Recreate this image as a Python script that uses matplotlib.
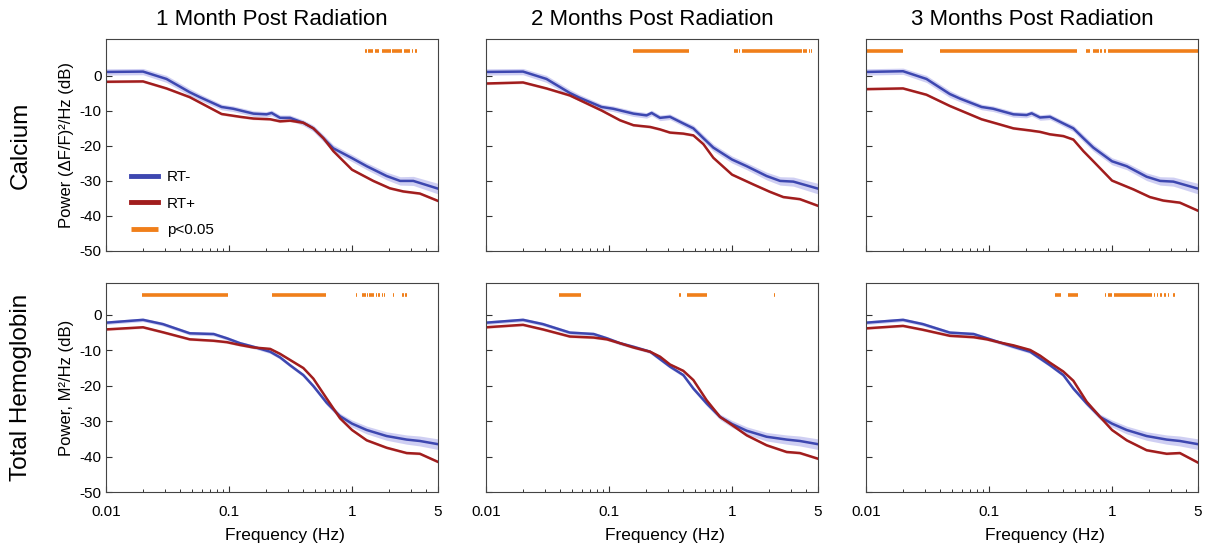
import numpy as np
import matplotlib.pyplot as plt
from matplotlib.ticker import FixedLocator, LogLocator, NullFormatter

plt.rcParams['font.family'] = ['Liberation Sans', 'DejaVu Sans']

titles = ["1 Month Post Radiation", "2 Months Post Radiation", "3 Months Post Radiation"]
row_labels = ["Calcium", "Total Hemoglobin"]
ylabels = ["Power (\u0394F/F)\u00b2/Hz (dB)", "Power, M\u00b2/Hz (dB)"]

# calcium row
ca_freq_blue = [0.01, 0.02, 0.031, 0.048, 0.058, 0.087, 0.108, 0.158, 0.202, 0.222, 0.26,
                0.313, 0.402, 0.485, 0.585, 0.705, 1.0, 1.316, 1.91, 2.46, 3.15, 5.0]
ca_sem_blue = [0.9, 0.9, 1.0, 1.0, 0.9, 0.8, 0.8, 0.8, 0.8, 0.8, 0.8,
               0.8, 0.8, 0.9, 1.0, 1.0, 1.0, 1.0, 1.1, 1.2, 1.3, 1.5]
ca_rt_minus = [
    [1.1, 1.2, -0.9, -4.7, -6.1, -8.9, -9.4, -10.8, -11.0, -10.6, -12.0,
     -12.0, -13.4, -15.0, -17.8, -20.7, -23.5, -25.8, -28.6, -30.0, -30.0, -32.2],
    [1.1, 1.2, -0.9, -4.9, -6.3, -8.9, -9.4, -10.8, -11.3, -10.6, -12.0,
     -11.7, -13.6, -15.0, -17.8, -20.5, -23.9, -25.8, -28.6, -30.0, -30.2, -32.2],
    [1.1, 1.3, -0.9, -5.2, -6.5, -8.9, -9.4, -11.0, -11.2, -10.7, -11.9,
     -11.7, -13.6, -15.0, -17.8, -20.5, -24.4, -25.8, -28.8, -30.0, -30.2, -32.2],
]
ca_freq_red = [0.01, 0.02, 0.031, 0.048, 0.087, 0.123, 0.158, 0.216, 0.26, 0.313,
               0.402, 0.485, 0.585, 0.705, 1.0, 1.49, 2.03, 2.61, 3.56, 5.0]
ca_rt_plus = [
    [-1.7, -1.6, -3.6, -6.1, -10.9, -11.7, -12.2, -12.4, -13.0, -12.8,
     -13.4, -15.0, -17.8, -21.5, -26.8, -30.0, -32.1, -33.0, -33.6, -35.7],
    [-2.2, -1.9, -3.6, -5.6, -9.9, -12.7, -14.1, -14.6, -15.3, -16.2,
     -16.5, -17.0, -19.5, -23.4, -28.2, -31.0, -33.1, -34.6, -35.2, -37.1],
    [-3.8, -3.6, -5.4, -8.6, -12.4, -13.9, -15.0, -15.6, -16.0, -16.7,
     -17.2, -18.2, -21.5, -24.4, -29.9, -32.4, -34.6, -35.6, -36.2, -38.5],
]

# hemoglobin row
hb_freq = [0.01, 0.02, 0.029, 0.048, 0.075, 0.096, 0.123, 0.158, 0.216, 0.26, 0.313,
           0.402, 0.485, 0.622, 0.799, 1.0, 1.316, 1.91, 2.78, 3.56, 5.0]
hb_sem_blue = [0.5, 0.5, 0.5, 0.5, 0.5, 0.5, 0.5, 0.5, 0.5, 0.5, 0.5,
               0.5, 0.6, 0.7, 0.8, 1.0, 1.1, 1.2, 1.3, 1.4, 1.5]
hb_rt_minus = [
    [-2.2, -1.4, -2.6, -5.2, -5.4, -6.6, -8.0, -9.0, -10.4, -12.0, -14.2,
     -17.0, -20.1, -24.8, -28.6, -30.7, -32.5, -34.2, -35.2, -35.6, -36.5],
    [-2.2, -1.4, -2.6, -5.0, -5.4, -6.6, -8.0, -9.0, -10.4, -12.5, -14.6,
     -17.0, -20.8, -25.0, -28.8, -30.8, -32.7, -34.4, -35.2, -35.6, -36.5],
    [-2.2, -1.4, -2.6, -5.0, -5.4, -6.6, -7.8, -9.0, -10.4, -12.3, -14.2,
     -17.0, -20.8, -25.0, -28.8, -30.7, -32.5, -34.2, -35.2, -35.6, -36.5],
]
hb_rt_plus = [
    [-4.1, -3.5, -4.9, -6.9, -7.3, -7.7, -8.5, -9.2, -9.6, -11.0, -12.7,
     -15.0, -18.0, -23.6, -29.2, -32.5, -35.4, -37.5, -39.0, -39.2, -41.5],
    [-3.5, -2.8, -4.1, -6.1, -6.4, -6.9, -8.0, -9.2, -10.4, -11.8, -14.0,
     -15.8, -18.4, -24.1, -28.8, -31.1, -34.0, -36.8, -38.7, -39.0, -40.6],
    [-3.8, -3.1, -4.2, -5.9, -6.3, -6.9, -7.8, -8.6, -9.9, -11.5, -13.5,
     -16.0, -18.6, -24.5, -28.8, -32.5, -35.4, -38.2, -39.2, -39.0, -41.7],
]

# p<0.05 frequency ranges (Hz)
ca_sig = [
    [(1.28, 1.33), (1.35, 1.48), (1.53, 1.67), (1.75, 2.07), (2.1, 2.54),
     (2.64, 2.97), (3.08, 3.14), (3.27, 3.4)],
    [(0.157, 0.447), (1.04, 1.12), (1.15, 1.17), (1.21, 3.71), (3.75, 4.1),
     (4.2, 4.3), (4.4, 4.5)],
    [(0.01, 0.02), (0.04, 0.517), (0.611, 0.66), (0.70, 0.79), (0.80, 0.83),
     (0.86, 0.90), (0.92, 5.0)],
]
hb_sig = [
    [(0.0196, 0.098), (0.224, 0.61), (1.07, 1.09), (1.13, 1.15), (1.20, 1.24),
     (1.26, 1.29), (1.32, 1.36), (1.37, 1.52), (1.56, 1.59), (1.64, 1.68),
     (1.74, 1.77), (1.83, 1.85), (2.17, 2.21), (2.54, 2.63), (2.70, 2.79)],
    [(0.039, 0.059), (0.37, 0.385), (0.43, 0.63), (2.2, 2.25)],
    [(0.344, 0.385), (0.44, 0.53), (0.877, 0.89), (0.92, 0.995), (1.03, 2.13),
     (2.18, 2.24), (2.31, 2.35), (2.45, 2.54), (2.67, 2.74), (2.84, 2.90),
     (3.15, 3.25)],
]

blue = "#3d47b0"
red = "#a11d1d"
orange = "#f07f1a"
band = "#c4c4f0"

fig = plt.figure(figsize=(12.1, 5.48), dpi=100)
lefts = [106, 486, 866]
rows = [
    dict(top=39, bot=251, ylim=(-50, 10.5), sig_y=7.0,
         fb=ca_freq_blue, blue=ca_rt_minus, sem=ca_sem_blue,
         fr=ca_freq_red, red=ca_rt_plus, sig=ca_sig),
    dict(top=283, bot=492, ylim=(-50, 9.0), sig_y=5.7,
         fb=hb_freq, blue=hb_rt_minus, sem=hb_sem_blue,
         fr=hb_freq, red=hb_rt_plus, sig=hb_sig),
]
W, H = 1210, 548
axes = []
for r, row in enumerate(rows):
    for c in range(3):
        ax = fig.add_axes([lefts[c] / W, 1 - row["bot"] / H, 332 / W,
                           (row["bot"] - row["top"]) / H])
        fb = np.array(row["fb"])
        yb = np.array(row["blue"][c])
        sem = np.array(row["sem"])
        ax.fill_between(fb, yb - sem, yb + sem, color=band, alpha=0.8, lw=0)
        fr = np.array(row["fr"])
        yr = np.array(row["red"][c])
        ax.fill_between(fr, yr - 0.35, yr + 0.35, color="#e8b0b0", alpha=0.6, lw=0)
        ax.plot(fb, yb, color=blue, lw=1.8, label="RT-")
        ax.plot(fr, yr, color=red, lw=1.8, label="RT+")
        for i, (a, b) in enumerate(row["sig"][c]):
            ax.plot([a, b], [row["sig_y"]] * 2, color=orange, lw=2.6,
                    solid_capstyle="butt", label="p<0.05" if i == 0 else None)
        ax.set_xscale("log")
        ax.set_xlim(0.01, 5)
        ax.set_ylim(*row["ylim"])
        ax.xaxis.set_major_locator(FixedLocator([0.01, 0.1, 1, 5]))
        ax.xaxis.set_minor_locator(LogLocator(base=10, subs=np.arange(2, 10)))
        ax.xaxis.set_minor_formatter(NullFormatter())
        ax.set_yticks([-50, -40, -30, -20, -10, 0])
        ax.tick_params(direction="in", labelsize=11, length=4, width=0.8,
                       color="#333333", pad=3)
        ax.tick_params(axis="x", pad=9)
        ax.tick_params(which="minor", direction="in", length=2.5, width=0.7,
                       color="#333333")
        for s in ax.spines.values():
            s.set_color("#444444")
            s.set_linewidth(0.8)
        if r == 0:
            ax.set_title(titles[c], fontsize=16, pad=10)
            ax.set_xticklabels([])
        else:
            ax.set_xticklabels(["0.01", "0.1", "1", "5"])
            ax.set_xlabel("Frequency (Hz)", fontsize=12.5, labelpad=7, x=0.54)
        if c == 0:
            ax.set_yticklabels(["-50", "-40", "-30", "-20", "-10", "0"])
            ax.set_ylabel(ylabels[r], fontsize=12, labelpad=4)
        else:
            ax.set_yticklabels([])
        axes.append(ax)

axes[0].legend(loc="upper left", bbox_to_anchor=(0.075, 0.38), frameon=False,
               fontsize=11, handlelength=1.8, handletextpad=0.55,
               labelspacing=0.8, borderaxespad=0, borderpad=0)
for ln in axes[0].get_legend().get_lines():
    ln.set_linewidth(3.5)

fig.text(21 / W, 1 - 145 / H, row_labels[0], rotation=90, ha="center",
         va="center", fontsize=17.5)
fig.text(21 / W, 1 - 387 / H, row_labels[1], rotation=90, ha="center",
         va="center", fontsize=17.5)

fig.savefig("out.png", dpi=100)
